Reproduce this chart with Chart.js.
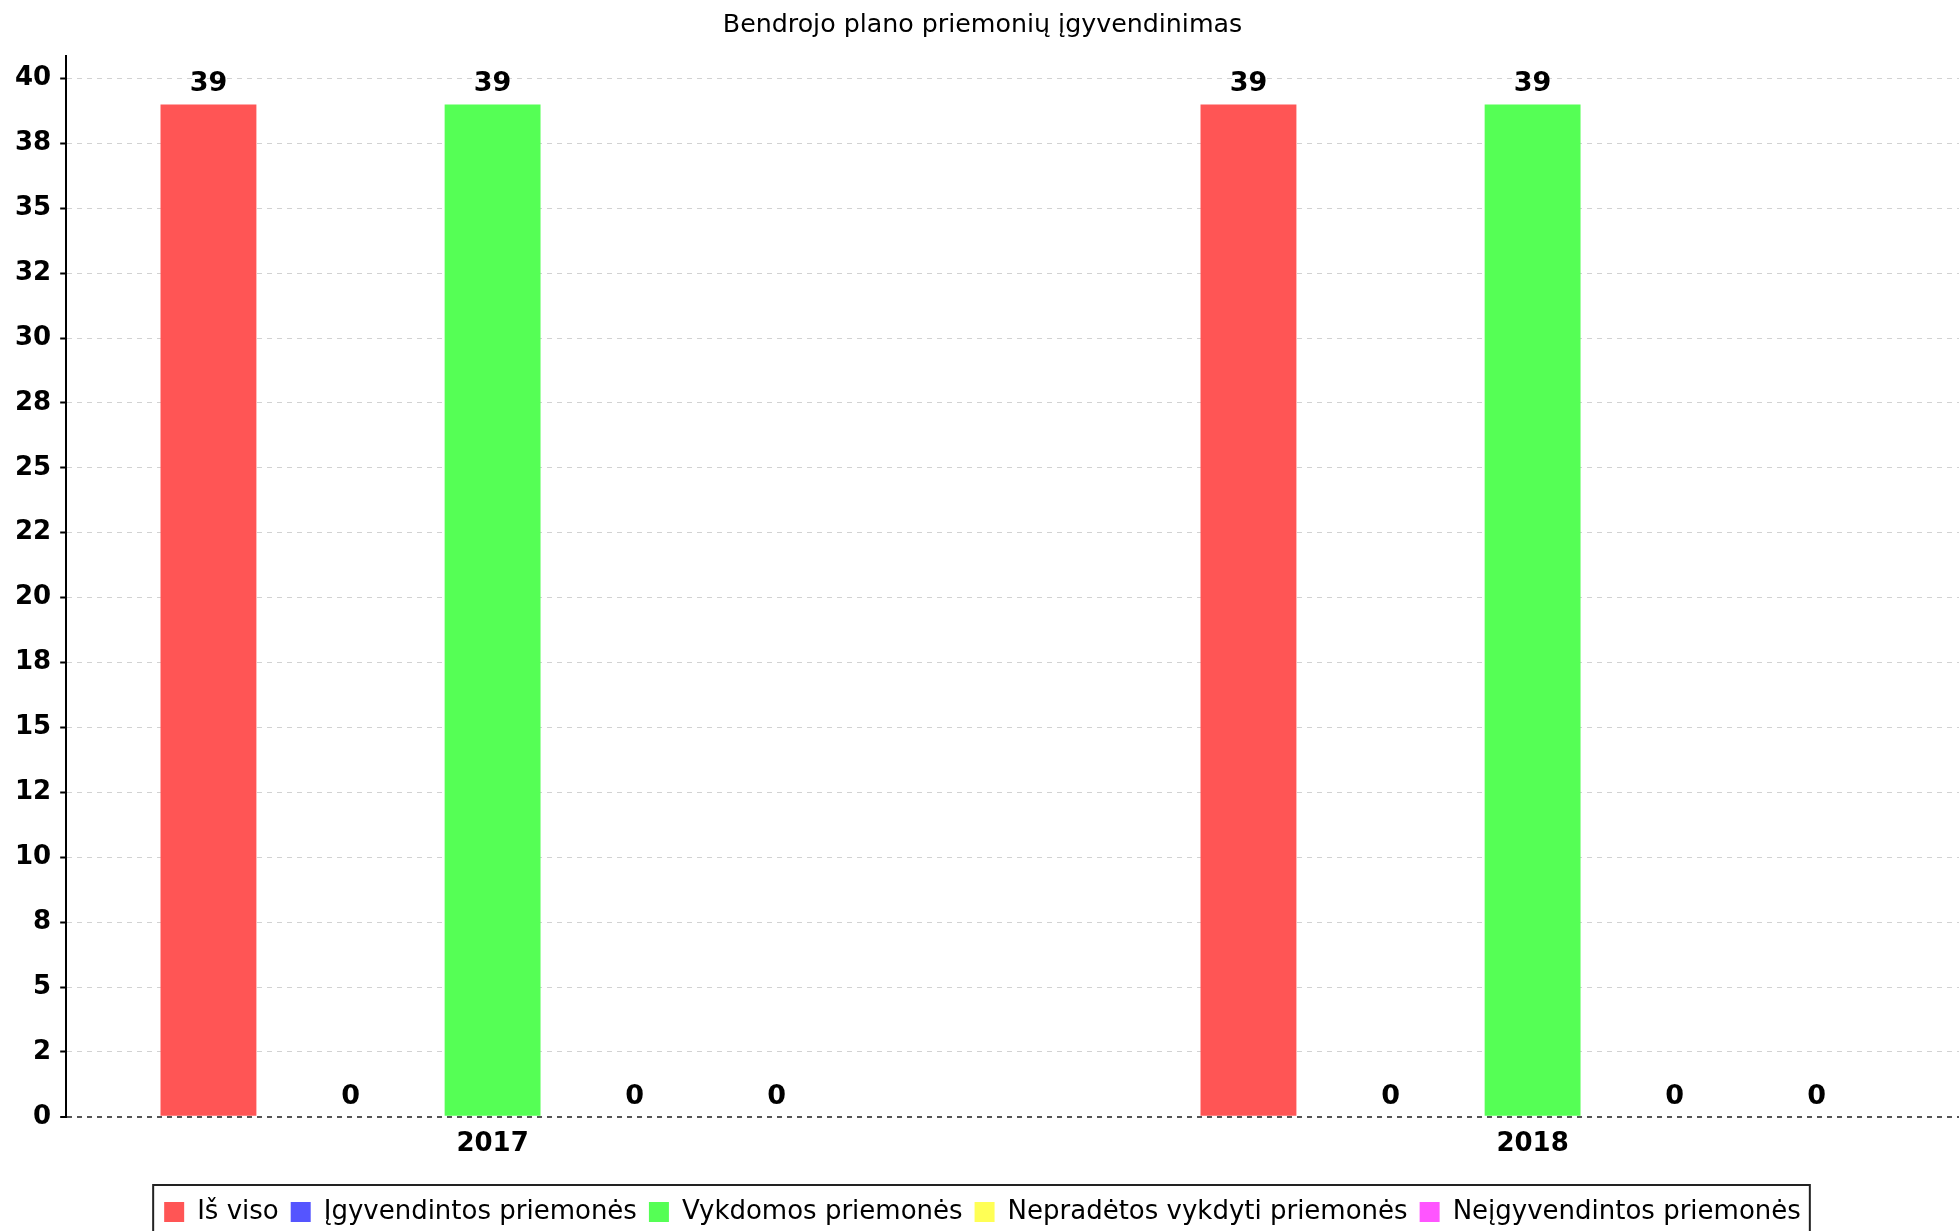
<!DOCTYPE html>
<html>
<head>
<meta charset="utf-8">
<script src="https://cdn.jsdelivr.net/npm/chart.js@4.4.0/dist/chart.umd.min.js"></script>
<style>
	html, body { margin: 0; padding: 0; background: #fff; overflow: hidden; }
	#wrap { width: 1959px; height: 1231px; }
</style>
</head>
<body>
<div id="wrap"><canvas id="planChart"></canvas></div>
<script>
let years = ['2017', '2018'];
let seriesNames = ['Iš viso', 'Įgyvendintos priemonės', 'Vykdomos priemonės', 'Nepradėtos vykdyti priemonės', 'Neįgyvendintos priemonės'];
let isViso = [39, 39];
let igyvendintos = [0, 0];
let vykdomos = [39, 39];
let nepradetos = [0, 0];
let neigyvendintos = [0, 0];
let seriesColors = ['#ff5555', '#5555ff', '#55ff55', '#ffff55', '#ff55ff'];
let yTickValues = [0, 2.5, 5, 7.5, 10, 12.5, 15, 17.5, 20, 22.5, 25, 27.5, 30, 32.5, 35, 37.5, 40];
let yTickLabels = ['0', '2', '5', '8', '10', '12', '15', '18', '20', '22', '25', '28', '30', '32', '35', '38', '40'];

let seriesValues = [isViso, igyvendintos, vykdomos, nepradetos, neigyvendintos];

let valueLabels = {
	id: 'valueLabels',
	afterDatasetsDraw: function (chart) {
		let ctx = chart.ctx;
		ctx.save();
		ctx.font = 'bold 27px "DejaVu Sans"';
		ctx.fillStyle = '#000';
		ctx.textAlign = 'center';
		ctx.textBaseline = 'middle';
		chart.data.datasets.forEach(function (ds, i) {
			chart.getDatasetMeta(i).data.forEach(function (bar, j) {
				ctx.fillText(String(ds.data[j].y), bar.x, bar.y - 20);
			});
		});
		ctx.restore();
	}
};

// frame round the legend, like the java chart has
let legendFrame = {
	id: 'legendFrame',
	afterDraw: function (chart) {
		let hb = chart.legend.legendHitBoxes;
		if (!hb || !hb.length) return;
		let last = hb[hb.length - 1];
		let left = hb[0].left - 11;
		let right = last.left + last.width + 9;
		let top = hb[0].top - 14;
		let ctx = chart.ctx;
		ctx.save();
		ctx.strokeStyle = '#222';
		ctx.lineWidth = 2;
		ctx.strokeRect(left, top, right - left, 80);
		ctx.restore();
	}
};

let chart = new Chart('planChart', {
	type: 'bar',
	data: {
		datasets: seriesNames.map(function (name, i) {
			return {
				label: name,
				data: seriesValues[i].map(function (v, j) { return { x: j, y: v }; }),
				backgroundColor: seriesColors[i],
				borderWidth: 0,
				categoryPercentage: 0.683,
				barPercentage: 0.675
			};
		})
	},
	plugins: [valueLabels, legendFrame],
	options: {
		responsive: true,
		maintainAspectRatio: false,
		animation: false,
		devicePixelRatio: 1,
		layout: { padding: { left: 6, right: 0, top: 0, bottom: -4 } },
		plugins: {
			tooltip: { enabled: false },
			title: {
				display: true,
				text: 'Bendrojo plano priemonių įgyvendinimas',
				color: '#000',
				font: { family: 'DejaVu Sans', size: 25.3, weight: 'normal' },
				padding: { top: 10, bottom: 16 }
			},
			legend: {
				position: 'bottom',
				labels: {
					color: '#000',
					font: { family: 'DejaVu Sans', size: 26 },
					boxWidth: 20,
					boxHeight: 20,
					padding: 12
				}
			}
		},
		scales: {
			x: {
				type: 'linear',
				min: -0.41,
				max: 1.41,
				offset: false,
				grid: { display: false, drawTicks: false },
				border: { display: false },
				afterBuildTicks: function (scale) {
					scale.ticks = years.map(function (y, i) { return { value: i }; });
				},
				afterFit: function (scale) {
					scale.height += 15;
				},
				ticks: {
					color: '#000',
					font: { family: 'DejaVu Sans', size: 26, weight: 'bold' },
					padding: 12,
					maxRotation: 0,
					callback: function (value) { return years[value]; }
				}
			},
			y: {
				min: 0,
				max: 40.85,
				afterBuildTicks: function (scale) {
					scale.ticks = yTickValues.map(function (v) { return { value: v }; });
				},
				grid: {
					color: function (c) { return c.tick && c.tick.value === 0 ? '#555' : '#d2d2d2'; },
					lineWidth: function (c) { return c.tick && c.tick.value === 0 ? 2 : 1; },
					tickColor: '#000',
					tickLength: 6,
					tickWidth: 2
				},
				border: { display: true, color: '#000', width: 2, dash: [5, 5] },
				ticks: {
					color: '#000',
					font: { family: 'DejaVu Sans', size: 26, weight: 'bold' },
					padding: 9,
					callback: function (value, index) { return yTickLabels[index]; }
				}
			}
		}
	}
});
</script>
</body>
</html>
